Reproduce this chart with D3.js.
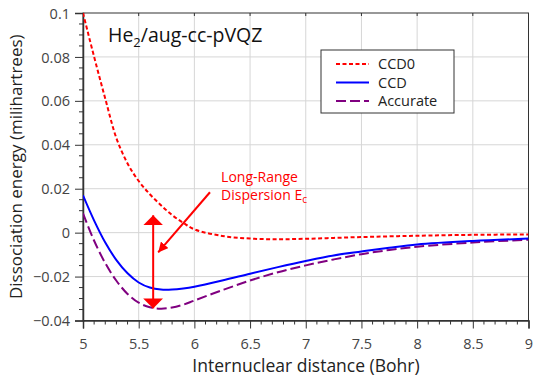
<!DOCTYPE html>
<html>
<head>
<meta charset="utf-8">
<title>He2 dissociation</title>
<script src="https://d3js.org/d3.v7.min.js"></script>
<style>
  body { margin: 0; background: #fff; }
  text { font-family: "Open Sans", "DejaVu Sans", sans-serif; }
  .tick text { fill: #444; font-size: 14.5px; }
  .grid line { stroke: #d6d6d6; stroke-width: 1; }
</style>
</head>
<body>
<svg class="chart"></svg>
<script>
// bond distance (Bohr)
var dist = [5.0, 5.1, 5.2, 5.3, 5.4, 5.5, 5.6, 5.7, 5.8, 5.9, 6.0, 6.25, 6.5, 6.75, 7.0, 7.25, 7.5, 7.75, 8.0, 8.5, 9.0];
// energies in millihartrees
var ccd0 = [0.100, 0.080, 0.061, 0.043, 0.0315, 0.0235, 0.0175, 0.0125, 0.008, 0.0045, 0.0015, -0.0015, -0.0027, -0.003, -0.0028, -0.0024, -0.002, -0.0017, -0.0014, -0.001, -0.0008];
var ccd = [0.017, 0.0055, -0.0045, -0.0125, -0.0185, -0.0227, -0.025, -0.0259, -0.0259, -0.0254, -0.0246, -0.0218, -0.0187, -0.0157, -0.0129, -0.0104, -0.0086, -0.0069, -0.0054, -0.0038, -0.0027];
var accurate = [0.0088, -0.0037, -0.0139, -0.0219, -0.0279, -0.0319, -0.034, -0.0346, -0.0341, -0.0328, -0.0309, -0.0262, -0.0218, -0.018, -0.0149, -0.0122, -0.0098, -0.0079, -0.0064, -0.0045, -0.0032];

var xTicks = [5, 5.5, 6, 6.5, 7, 7.5, 8, 8.5, 9];
var yTicks = [-0.04, -0.02, 0, 0.02, 0.04, 0.06, 0.08, 0.1];
var seriesNames = ["CCD0", "CCD", "Accurate"];

var svgWidth = 533, svgHeight = 376;
var margin = {top: 13, right: 4.5, bottom: 55.5, left: 83};
var width = svgWidth - margin.left - margin.right;
var height = svgHeight - margin.top - margin.bottom;

var xScale = d3.scaleLinear().domain([5, 9]).range([0, width]);
var yScale = d3.scaleLinear().domain([-0.04, 0.1]).range([height, 0]);

var svg = d3.select(".chart").attr("width", svgWidth).attr("height", svgHeight);
var chart = svg.append("g").attr("transform", "translate(" + margin.left + "," + margin.top + ")");

// grid
chart.append("g").attr("class", "grid")
    .selectAll("line").data(xTicks.slice(1, -1)).enter().append("line")
        .attr("x1", d => xScale(d)).attr("x2", d => xScale(d))
        .attr("y1", 0).attr("y2", height);
chart.append("g").attr("class", "grid")
    .selectAll("line").data(yTicks.slice(1, -1)).enter().append("line")
        .attr("y1", d => yScale(d)).attr("y2", d => yScale(d))
        .attr("x1", 0).attr("x2", width);

// minor ticks
var xMinor = d3.range(5, 9.0001, 0.1).filter(v => Math.abs(v * 2 - Math.round(v * 2)) > 1e-6);
var yMinor = d3.range(-0.04, 0.1001, 0.005).filter(v => Math.abs(v / 0.02 - Math.round(v / 0.02)) > 1e-6);
chart.append("g").selectAll("line").data(xMinor).enter().append("line")
    .attr("x1", d => xScale(d)).attr("x2", d => xScale(d))
    .attr("y1", height).attr("y2", height + 4)
    .attr("stroke", "#333");
chart.append("g").selectAll("line").data(yMinor).enter().append("line")
    .attr("y1", d => yScale(d)).attr("y2", d => yScale(d))
    .attr("x1", 0).attr("x2", -4)
    .attr("stroke", "#333");
// top inner ticks
chart.append("g").selectAll("line").data(xTicks.slice(1, -1)).enter().append("line")
    .attr("x1", d => xScale(d)).attr("x2", d => xScale(d))
    .attr("y1", 0).attr("y2", 3)
    .attr("stroke", "#333");

// frame
chart.append("rect").attr("width", width).attr("height", height)
    .attr("fill", "none").attr("stroke", "#333").attr("stroke-width", 1);

var xAxis = d3.axisBottom(xScale).tickValues(xTicks).tickSize(8).tickPadding(10)
    .tickFormat(d3.format("~g"));
var yAxis = d3.axisLeft(yScale).tickValues(yTicks).tickSize(8).tickPadding(5)
    .tickFormat(d => d === 0 ? "0" : d3.format("~g")(d).replace("-", "\u2212"));

chart.append("g").attr("transform", "translate(0," + height + ")").call(xAxis)
    .call(g => g.select(".domain").attr("stroke", "#333").attr("stroke-width", 1.5))
    .call(g => g.selectAll(".tick line").attr("stroke", "#333"));
chart.append("g").call(yAxis)
    .call(g => g.select(".domain").attr("stroke", "#333").attr("stroke-width", 1.5))
    .call(g => g.selectAll(".tick line").attr("stroke", "#333"))
    .call(g => g.selectAll(".tick text").attr("dy", "0.35em"));

// axis titles
svg.append("text")
    .attr("x", 306).attr("y", 372)
    .attr("text-anchor", "middle").attr("font-size", 17.5).attr("fill", "#222")
    .text("Internuclear distance (Bohr)");
svg.append("text")
    .attr("transform", "translate(22," + (margin.top + height / 2) + ") rotate(-90)")
    .attr("text-anchor", "middle").attr("font-size", 17).attr("fill", "#222")
    .text("Dissociation energy (milihartrees)");

// plot title
var title = chart.append("text").attr("x", 25).attr("y", 29)
    .attr("font-size", 19.5).attr("fill", "#111");
title.append("tspan").text("He");
title.append("tspan").attr("font-size", 13).attr("dy", 5).text("2");
title.append("tspan").attr("dy", -5).text("/aug-cc-pVQZ");

// curves
var styles = {
    "CCD0": {color: "#ff0000", dash: "4,2.5", values: ccd0},
    "CCD": {color: "#0000ff", dash: null, values: ccd},
    "Accurate": {color: "#800080", dash: "10,4", values: accurate}
};
var line = d3.line()
    .x(d => xScale(d[0]))
    .y(d => yScale(d[1]))
    .curve(d3.curveCatmullRom.alpha(0.5));

chart.append("defs").append("clipPath").attr("id", "clip")
    .append("rect").attr("width", width).attr("height", height);

seriesNames.slice().reverse().forEach(function (name) {
    var s = styles[name];
    chart.append("path")
        .datum(dist.map((x, i) => [x, s.values[i]]))
        .attr("clip-path", "url(#clip)")
        .attr("fill", "none")
        .attr("stroke", s.color)
        .attr("stroke-width", 2)
        .attr("stroke-dasharray", s.dash)
        .attr("d", line);
});

// legend
var legend = chart.append("g").attr("transform", "translate(238,37)");
legend.append("rect").attr("width", 133).attr("height", 63)
    .attr("fill", "#fff").attr("stroke", "#333").attr("stroke-width", 1);
seriesNames.forEach(function (name, i) {
    var s = styles[name];
    var y = 14 + i * 18.5;
    legend.append("line")
        .attr("x1", 15).attr("x2", 48).attr("y1", y).attr("y2", y)
        .attr("stroke", s.color).attr("stroke-width", 2)
        .attr("stroke-dasharray", s.dash);
    legend.append("text").attr("x", 57).attr("y", y).attr("dy", "0.35em")
        .attr("font-size", 14.5).attr("fill", "#222").text(name);
});

// annotation
var red = "#ff0000";
var defs = chart.select("defs");
defs.append("marker").attr("id", "head")
    .attr("viewBox", "0 0 10 10").attr("refX", 10).attr("refY", 5)
    .attr("markerWidth", 10).attr("markerHeight", 10)
    .attr("markerUnits", "userSpaceOnUse")
    .attr("orient", "auto-start-reverse")
    .append("path").attr("d", "M0,0 L10,5 L0,10 Z").attr("fill", red);
defs.append("marker").attr("id", "head2")
    .attr("viewBox", "0 0 10 20").attr("refX", 10).attr("refY", 10)
    .attr("markerWidth", 10).attr("markerHeight", 20)
    .attr("markerUnits", "userSpaceOnUse")
    .attr("orient", "auto-start-reverse")
    .append("path").attr("d", "M0,0 L10,10 L0,20 Z").attr("fill", red);

chart.append("line")
    .attr("x1", xScale(5.63)).attr("x2", xScale(5.63))
    .attr("y1", yScale(0.0079)).attr("y2", yScale(-0.0345))
    .attr("stroke", red).attr("stroke-width", 2)
    .attr("marker-start", "url(#head2)").attr("marker-end", "url(#head2)");
chart.append("line")
    .attr("x1", xScale(6.14)).attr("y1", yScale(0.0184))
    .attr("x2", xScale(5.675)).attr("y2", yScale(-0.009))
    .attr("stroke", red).attr("stroke-width", 2)
    .attr("marker-end", "url(#head)");

var note = chart.append("text").attr("font-size", 14).attr("fill", red);
note.append("tspan").attr("x", xScale(6.24)).attr("y", yScale(0.0232)).text("Long-Range");
note.append("tspan").attr("x", xScale(6.24)).attr("y", yScale(0.0148)).text("Dispersion E");
note.append("tspan").attr("font-size", 10).attr("dy", 3).text("c");
</script>
</body>
</html>
